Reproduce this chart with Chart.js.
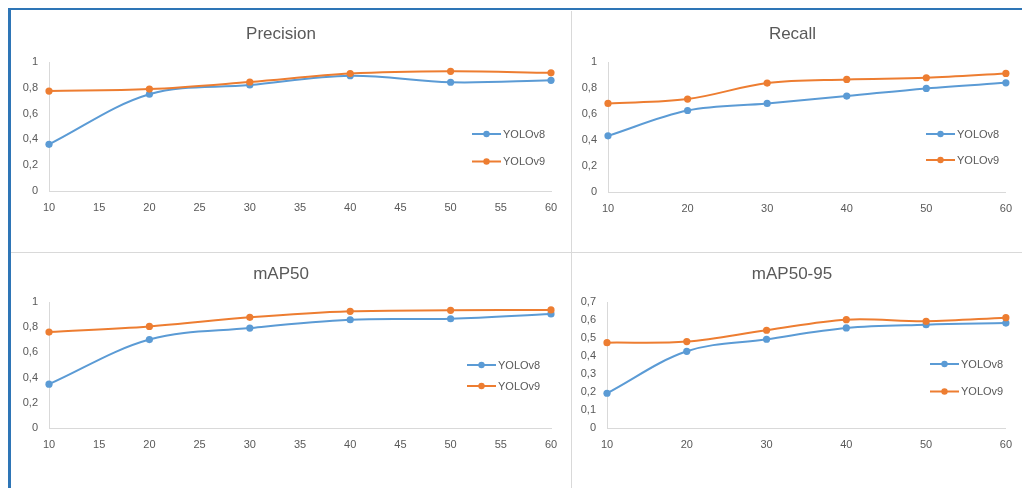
<!DOCTYPE html>
<html>
<head>
<meta charset="utf-8">
<script src="https://cdn.jsdelivr.net/npm/chart.js@4"></script>
<style>
    body { margin: 0; background: #fff; }
    #page { position: relative; width: 1022px; height: 488px; overflow: hidden; background: #fff; }
    #frame { position: absolute; left: 8px; top: 8px; width: 1100px; height: 600px;
             border-left: 3px solid #2e75b6; border-top: 2px solid #2e75b6; }
    .vline { position: absolute; left: 571px; top: 11px; width: 1px; height: 480px; background: #d9d9d9; }
    .hline { position: absolute; left: 11px; top: 252px; width: 1011px; height: 1px; background: #d9d9d9; }
    .panel { position: absolute; }
</style>
</head>
<body>
<div id="page">
    <div id="frame"></div>
    <div class="vline"></div>
    <div class="hline"></div>
    <div class="panel" style="left:11px;top:12px;width:560px;height:240px"><canvas id="precisionChart"></canvas></div>
    <div class="panel" style="left:572px;top:12px;width:450px;height:240px"><canvas id="recallChart"></canvas></div>
    <div class="panel" style="left:11px;top:253px;width:560px;height:235px"><canvas id="map50Chart"></canvas></div>
    <div class="panel" style="left:572px;top:253px;width:450px;height:235px"><canvas id="map5095Chart"></canvas></div>
</div>
<script>
const epochs = [10, 20, 30, 40, 50, 60];
const seriesNames = ['YOLOv8', 'YOLOv9'];

const precisionV8 = [0.362, 0.75, 0.822, 0.894, 0.843, 0.858];
const precisionV9 = [0.775, 0.79, 0.845, 0.91, 0.928, 0.916];

const recallV8 = [0.432, 0.627, 0.681, 0.738, 0.797, 0.84];
const recallV9 = [0.681, 0.715, 0.838, 0.866, 0.879, 0.912];

const map50V8 = [0.348, 0.702, 0.793, 0.859, 0.867, 0.905];
const map50V9 = [0.761, 0.806, 0.878, 0.926, 0.934, 0.937];

const map5095V8 = [0.193, 0.426, 0.493, 0.556, 0.574, 0.583];
const map5095V9 = [0.474, 0.48, 0.543, 0.602, 0.593, 0.613];

const BLUE = '#5b9bd5';
const ORANGE = '#ed7d31';
const TEXT = '#595959';
const AXIS = '#d9d9d9';
const FONT = "'Liberation Sans', Arial, sans-serif";

// legend drawn inside the plot, like the Excel one
const insideLegend = {
    id: 'insideLegend',
    afterDraw(chart, args, opts) {
        const ctx = chart.ctx;
        ctx.save();
        chart.data.datasets.forEach((ds, i) => {
            const y = opts.ys[i];
            ctx.strokeStyle = ds.borderColor;
            ctx.lineWidth = 2;
            ctx.beginPath();
            ctx.moveTo(opts.x, y);
            ctx.lineTo(opts.x + 29, y);
            ctx.stroke();
            ctx.fillStyle = ds.borderColor;
            ctx.beginPath();
            ctx.arc(opts.x + 14.5, y, 3.2, 0, Math.PI * 2);
            ctx.fill();
            ctx.fillStyle = TEXT;
            ctx.font = '11px ' + FONT;
            ctx.textBaseline = 'middle';
            ctx.fillText(ds.label, opts.x + 31, y + 0.5);
        });
        ctx.restore();
    }
};

function makeChart(id, cfg) {
    const ctx = document.getElementById(id).getContext('2d');
    const line = (label, data, color, order) => ({
        label: label,
        data: epochs.map((x, i) => ({ x: x, y: data[i] })),
        borderColor: color,
        backgroundColor: color,
        pointBackgroundColor: color,
        pointBorderWidth: 0,
        pointRadius: 3.6,
        borderWidth: 2,
        tension: 0.35,
        clip: false,
        order: order
    });
    return new Chart(ctx, {
        type: 'line',
        data: {
            datasets: [
                line(seriesNames[0], cfg.v8, BLUE, 1),
                line(seriesNames[1], cfg.v9, ORANGE, 0)
            ]
        },
        options: {
            responsive: true,
            maintainAspectRatio: false,
            animation: false,
            layout: { padding: { left: 0, right: cfg.padRight, top: 0, bottom: 0 } },
            plugins: {
                legend: { display: false },
                tooltip: { enabled: false },
                title: {
                    display: true,
                    text: cfg.title,
                    color: TEXT,
                    font: { family: FONT, size: 17, weight: 'normal', lineHeight: 1.2 },
                    padding: { top: cfg.titleTop, bottom: cfg.titleBottom }
                },
                insideLegend: cfg.legend
            },
            scales: {
                x: {
                    type: 'linear',
                    min: 10,
                    max: 60,
                    grid: { display: false, drawTicks: false },
                    border: { display: true, color: AXIS, width: 1 },
                    ticks: { stepSize: cfg.xStep, padding: 10, color: TEXT, font: { family: FONT, size: 11 } },
                    afterFit: s => { s.height = cfg.xHeight; }
                },
                y: {
                    min: 0,
                    max: cfg.yMax,
                    grid: { display: false, drawTicks: false },
                    border: { display: true, color: AXIS, width: 1 },
                    ticks: {
                        stepSize: cfg.yStep,
                        padding: 11,
                        color: TEXT,
                        font: { family: FONT, size: 11 },
                        callback: v => String(+v.toFixed(2)).replace('.', ',')
                    },
                    afterFit: s => { s.width = cfg.yWidth; }
                }
            }
        },
        plugins: [insideLegend]
    });
}

makeChart('precisionChart', {
    title: 'Precision', v8: precisionV8, v9: precisionV9,
    xStep: 5, yMax: 1, yStep: 0.2,
    padRight: 20, yWidth: 38, xHeight: 61, titleTop: 11.8, titleBottom: 17.8,
    legend: { x: 461, ys: [122, 149.5] }
});
makeChart('recallChart', {
    title: 'Recall', v8: recallV8, v9: recallV9,
    xStep: 10, yMax: 1, yStep: 0.2,
    padRight: 9, yWidth: 36, xHeight: 60, titleTop: 11.8, titleBottom: 17.8,
    legend: { x: 354, ys: [122, 148] }
});
makeChart('map50Chart', {
    title: 'mAP50', v8: map50V8, v9: map50V9,
    xStep: 5, yMax: 1, yStep: 0.2,
    padRight: 20, yWidth: 38, xHeight: 60, titleTop: 11.3, titleBottom: 17.3,
    legend: { x: 456, ys: [112, 133] }
});
makeChart('map5095Chart', {
    title: 'mAP50-95', v8: map5095V8, v9: map5095V9,
    xStep: 10, yMax: 0.7, yStep: 0.1,
    padRight: 10, yWidth: 35, xHeight: 60, titleTop: 11.3, titleBottom: 17.3,
    legend: { x: 358, ys: [111, 138.5] }
});
</script>
</body>
</html>
